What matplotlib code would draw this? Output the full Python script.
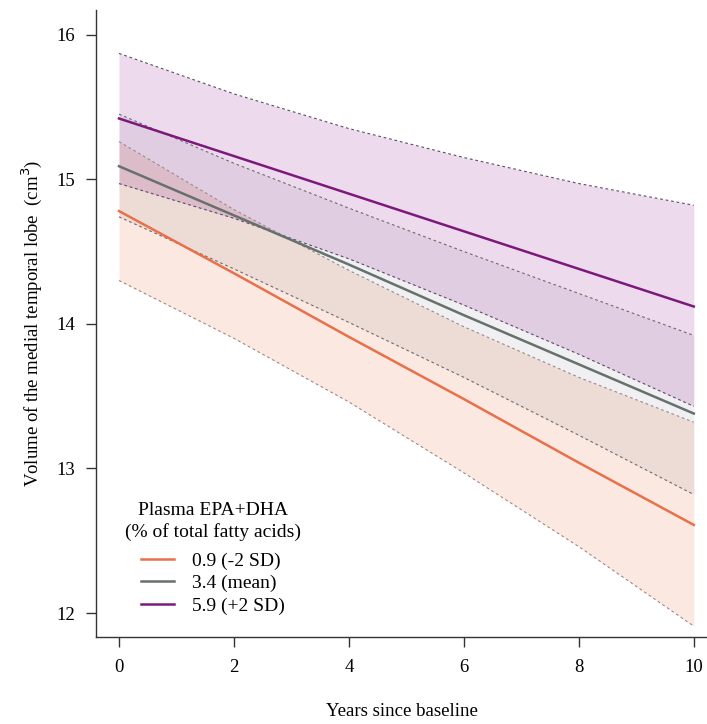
import matplotlib
matplotlib.use("Agg")
import matplotlib.pyplot as plt

plt.rcParams['font.family'] = ['Liberation Serif', 'DejaVu Serif']

years = [0, 2, 4, 6, 8, 10]

# 0.9 (-2 SD)
low_mean = [14.78, 14.35, 13.91, 13.48, 13.04, 12.61]
low_upper = [15.26, 14.79, 14.37, 13.98, 13.63, 13.32]
low_lower = [14.30, 13.90, 13.46, 12.97, 12.46, 11.91]

# 3.4 (mean)
mid_mean = [15.09, 14.75, 14.41, 14.06, 13.72, 13.38]
mid_upper = [15.45, 15.11, 14.80, 14.50, 14.21, 13.92]
mid_lower = [14.74, 14.38, 14.01, 13.63, 13.23, 12.82]

# 5.9 (+2 SD)
high_mean = [15.42, 15.16, 14.90, 14.64, 14.38, 14.12]
high_upper = [15.87, 15.59, 15.35, 15.15, 14.97, 14.82]
high_lower = [14.97, 14.73, 14.45, 14.13, 13.79, 13.43]

labels = ["0.9 (-2 SD)", "3.4 (mean)", "5.9 (+2 SD)"]
legend_title = "Plasma EPA+DHA\n(% of total fatty acids)"

fig = plt.figure(figsize=(7.07, 7.24), dpi=100)
ax = fig.add_axes([96/707, 87/724, 1 - 96/707, (637-10)/724])

series = [
    (low_mean, low_upper, low_lower, "#e8704a", (232/255, 112/255, 74/255, 0.16), "#9a8a88"),
    (mid_mean, mid_upper, mid_lower, "#66706c", (0.45, 0.42, 0.48, 0.10), "#6c6c6c"),
    (high_mean, high_upper, high_lower, "#7b1a7b", (0.5, 0.0, 0.5, 0.14), "#5a4a66"),
]

for mean, up, lo, col, fill, dcol in series:
    ax.fill_between(years, lo, up, color=fill, linewidth=0)

for mean, up, lo, col, fill, dcol in series:
    ax.plot(years, up, color=dcol, lw=0.8, ls=(0, (2.5, 2.5)))
    ax.plot(years, lo, color=dcol, lw=0.8, ls=(0, (2.5, 2.5)))

handles = []
for (mean, up, lo, col, fill, dcol), lab in zip(series, labels):
    ln, = ax.plot(years, mean, color=col, lw=1.8, label=lab)
    handles.append(ln)

ax.set_xlim(-0.40, 10.23)
ax.set_ylim(11.835, 16.17)
ax.set_xticks([0, 2, 4, 6, 8, 10])
ax.set_yticks([12, 13, 14, 15, 16])
ax.spines['top'].set_visible(False)
ax.spines['right'].set_visible(False)
for s in ['left', 'bottom']:
    ax.spines[s].set_linewidth(1.0)
    ax.spines[s].set_color('#333333')
ax.tick_params(axis='both', direction='out', length=7, width=1.0, color='#333333',
               labelsize=13.5)
ax.tick_params(axis='x', pad=9)
ax.tick_params(axis='y', pad=8)
ax.set_xlabel("Years since baseline", fontsize=13.5, va='center')
ax.xaxis.set_label_coords(0.5, (637 - 712) / 627)
ax.set_ylabel("Volume of the medial temporal lobe  (cm$^3$)", fontsize=13.5, va='center')
ax.yaxis.set_label_coords((32 - 96) / 611, 0.5)

leg = ax.legend(handles=handles, title=legend_title, loc='upper center',
                bbox_to_anchor=((213 - 96) / 611, (637 - 494) / 627), frameon=False,
                fontsize=14, title_fontsize=14, handlelength=1.7, handletextpad=0.9,
                labelspacing=0.25, borderaxespad=0)
leg._legend_box.align = "center"
leg._legend_box.sep = 8
leg.get_title().set_multialignment('center')
leg.get_title().set_linespacing(1.3)

fig.savefig("out.png", dpi=100)
